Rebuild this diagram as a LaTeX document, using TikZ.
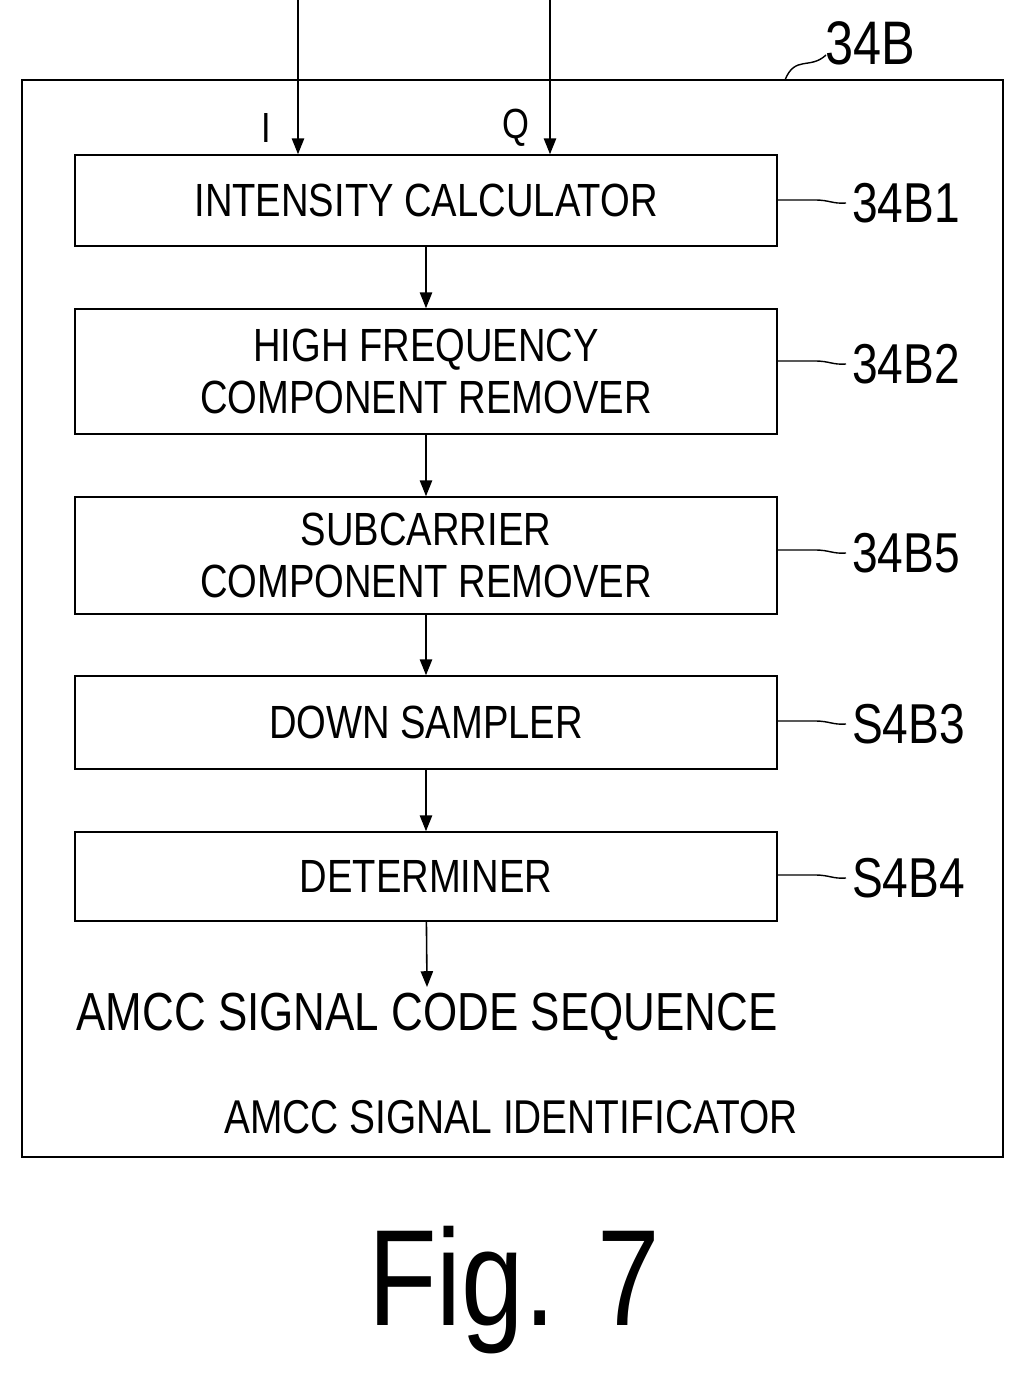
\documentclass[tikz,border=0pt]{standalone}
\usepackage{fontspec}
\setmainfont[FakeStretch=0.82]{Liberation Sans}
\usetikzlibrary{arrows.meta}
\begin{document}
\begin{tikzpicture}[x=0.02cm,y=-0.02cm,
  blk/.style={draw,line width=0.9pt,minimum width=702*0.02cm,align=center,font=\fontsize{26.5}{30}\selectfont,inner sep=0pt},
  arr/.style={line width=0.9pt,-{Triangle[length=9pt,width=7pt]}},
  lbl/.style={font=\fontsize{32}{34}\selectfont},
  lead/.style={line width=0.8pt}]
\useasboundingbox (0,0) rectangle (1024,1390);
\draw[line width=1pt] (22,80) rectangle (1003,1157);
\node[lbl,font=\fontsize{35}{36}\selectfont] (l34b) at (870,43) {34B};
\draw[lead] (785,80) .. controls (795,55) and (810,70) .. (826,55);
\node[blk,minimum height=91*0.02cm] (b1) at (426,200.5) {INTENSITY CALCULATOR};
\node[blk,minimum height=125*0.02cm] (b2) at (426,371.5) {HIGH FREQUENCY\\COMPONENT REMOVER};
\node[blk,minimum height=117*0.02cm] (b3) at (426,555.5) {SUBCARRIER\\COMPONENT REMOVER};
\node[blk,minimum height=93*0.02cm] (b4) at (426,722.5) {DOWN SAMPLER};
\node[blk,minimum height=89*0.02cm] (b5) at (426,876.5) {DETERMINER};
\coordinate (i0) at (298,0); \coordinate (q0) at (550,0);
\draw[arr] (i0) -- (b1.north -| i0);
\draw[arr] (q0) -- (b1.north -| q0);
\node[font=\fontsize{24}{26}\selectfont] (il) at (266,128) {I};
\node[font=\fontsize{24}{26}\selectfont] (ql) at (516,128) {Q};
\draw[arr] (b1) -- (b2);
\draw[arr] (b2) -- (b3);
\draw[arr] (b3) -- (b4);
\draw[arr] (b4) -- (b5);
\node[font=\fontsize{30.5}{34}\selectfont] (out) at (427,1017) {AMCC SIGNAL CODE SEQUENCE};
\draw[arr] (b5) -- (out.north);
\node[font=\fontsize{27}{30}\selectfont] (idf) at (511,1117) {AMCC SIGNAL IDENTIFICATOR};
\node[font=\fontsize{78}{90}\selectfont] (fig) at (514,1290) {Fig. 7};
\foreach \n/\t/\y in {b1/34B1/203,b2/34B2/364,b3/34B5/553,b4/S4B3/724,b5/S4B4/878}{
  \node[lbl,anchor=west] (l\n) at (846,\y) {\t};
  \draw[lead] (b1.east |- 0,\y-3) -- (815,\y-3) .. controls (830,\y-3) and (832,\y+1) .. (l\n.west);
}
\end{tikzpicture}
\end{document}
